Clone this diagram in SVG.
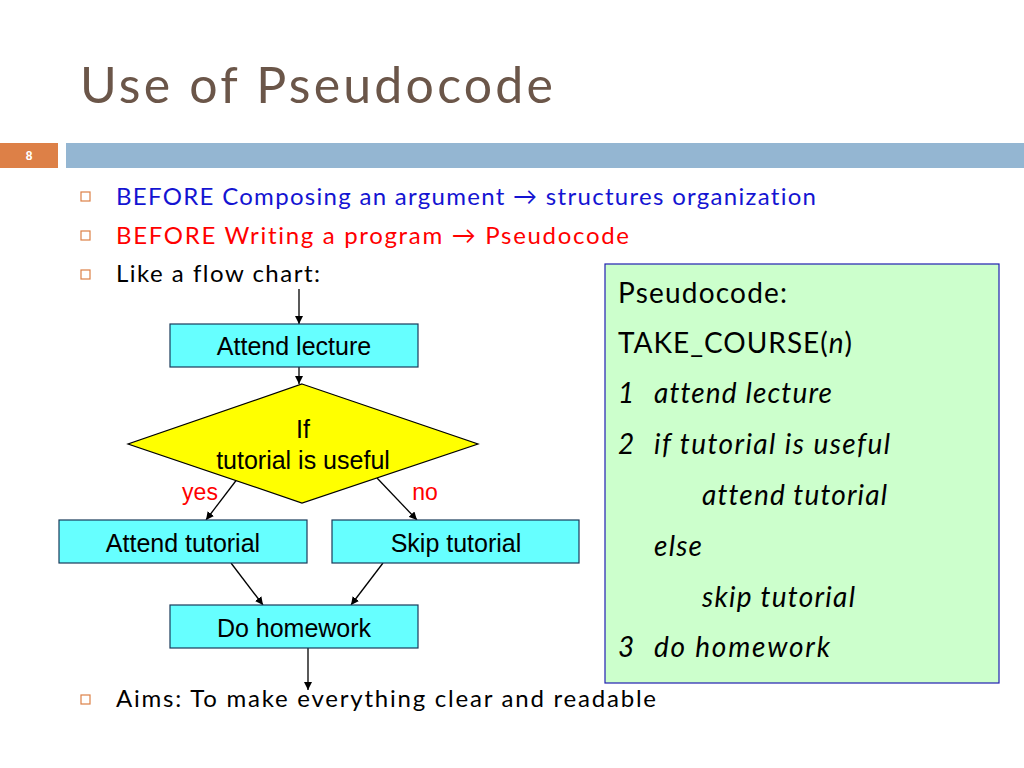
<svg xmlns="http://www.w3.org/2000/svg" width="1024" height="768" viewBox="0 0 1024 768">
<defs>
<marker id="ah" viewBox="0 0 10 10" refX="10" refY="5" markerWidth="8" markerHeight="8" markerUnits="userSpaceOnUse" orient="auto">
<path d="M0,0 L10,5 L0,10 z" fill="#000"/>
</marker>
<style>
.tw{font-family:Lato,"Open Sans","Noto Sans",sans-serif;font-variant-ligatures:none}
.ar{font-family:"Liberation Sans",Arial,sans-serif;font-size:25px;fill:#000;text-anchor:middle}
.box{fill:#66FFFF;stroke:#1a3a5a;stroke-width:1.2}
.bul{fill:none;stroke:#DD8047;stroke-width:1.2}
.line{stroke:#000;stroke-width:1.3;fill:none;marker-end:url(#ah)}
.pc{font-family:Lato,"Open Sans","Noto Sans",sans-serif;font-size:28px;fill:#000;font-variant-ligatures:none}
.it{font-style:italic}
</style>
</defs>
<rect width="1024" height="768" fill="#fff"/>
<text class="tw" x="80" y="103" font-size="50" fill="#6B5649" textLength="473" lengthAdjust="spacing">Use of Pseudocode</text>
<rect x="0" y="143" width="58" height="25" fill="#DD8047"/>
<rect x="66" y="143" width="958" height="25" fill="#94B6D2"/>
<text x="29" y="160" font-family="Liberation Sans,Arial,sans-serif" font-size="12" font-weight="bold" fill="#fff" text-anchor="middle">8</text>

<g id="bullets">
<rect class="bul" x="81" y="192" width="9" height="9"/>
<text class="tw" x="116" y="205" font-size="24" fill="#1414D2" textLength="700" lengthAdjust="spacing">BEFORE Composing an argument → structures organization</text>
<rect class="bul" x="81" y="231" width="9" height="9"/>
<text class="tw" x="116" y="244" font-size="24" fill="#FF0000" textLength="513" lengthAdjust="spacing">BEFORE Writing a program → Pseudocode</text>
<rect class="bul" x="81" y="270" width="9" height="9"/>
<text class="tw" x="116" y="282" font-size="24" fill="#000" textLength="204" lengthAdjust="spacing">Like a flow chart:</text>
<rect class="bul" x="81" y="695" width="9" height="9"/>
<text class="tw" x="116" y="707" font-size="24" fill="#000" textLength="540" lengthAdjust="spacing">Aims: To make everything clear and readable</text>
</g>

<g id="connectors">
<line class="line" x1="299" y1="289" x2="299" y2="324"/>
<line class="line" x1="299" y1="367" x2="299" y2="384"/>
<line class="line" x1="238" y1="478" x2="206" y2="520"/>
<line class="line" x1="377" y1="478" x2="417" y2="520"/>
<line class="line" x1="231" y1="563" x2="263" y2="605"/>
<line class="line" x1="383" y1="563" x2="351" y2="605"/>
<line class="line" x1="308" y1="648" x2="308" y2="690"/>
</g>

<g id="attend-lecture">
<rect class="box" x="170" y="324" width="248" height="43"/>
<text class="ar" x="294" y="355">Attend lecture</text>
</g>
<g id="decision">
<polygon points="302,384 478,444 302,503 128,444" fill="#FFFF00" stroke="#000" stroke-width="1.2"/>
<text class="ar" x="303" y="438">If</text>
<text class="ar" x="303" y="469">tutorial is useful</text>
</g>
<g id="labels">
<text x="200" y="500" font-family="Liberation Sans,Arial,sans-serif" font-size="23" fill="#FF0000" text-anchor="middle">yes</text>
<text x="425" y="500" font-family="Liberation Sans,Arial,sans-serif" font-size="23" fill="#FF0000" text-anchor="middle">no</text>
</g>
<g id="attend-tutorial">
<rect class="box" x="59" y="520" width="248" height="43"/>
<text class="ar" x="183" y="552">Attend tutorial</text>
</g>
<g id="skip-tutorial">
<rect class="box" x="332" y="520" width="247" height="43"/>
<text class="ar" x="456" y="552">Skip tutorial</text>
</g>
<g id="do-homework">
<rect class="box" x="170" y="605" width="248" height="43"/>
<text class="ar" x="294" y="637">Do homework</text>
</g>

<g id="pseudocode">
<rect x="605" y="264" width="394" height="419" fill="#CCFFCC" stroke="#2020B0" stroke-width="1.2"/>
<text class="pc" x="618" y="303" textLength="169" lengthAdjust="spacing">Pseudocode:</text>
<text class="pc" x="618" y="353" textLength="234" lengthAdjust="spacing">TAKE_COURSE(<tspan class="it">n</tspan>)</text>
<text class="pc it" x="618" y="403">1</text>
<text class="pc it" x="654" y="403" textLength="178" lengthAdjust="spacing">attend lecture</text>
<text class="pc it" x="618" y="454">2</text>
<text class="pc it" x="654" y="454" textLength="236" lengthAdjust="spacing">if  tutorial is useful</text>
<text class="pc it" x="702" y="505" textLength="185" lengthAdjust="spacing">attend tutorial</text>
<text class="pc it" x="654" y="556" textLength="48" lengthAdjust="spacing">else</text>
<text class="pc it" x="702" y="607" textLength="153" lengthAdjust="spacing">skip tutorial</text>
<text class="pc it" x="618" y="657">3</text>
<text class="pc it" x="654" y="657" textLength="176" lengthAdjust="spacing">do homework</text>
</g>
</svg>
